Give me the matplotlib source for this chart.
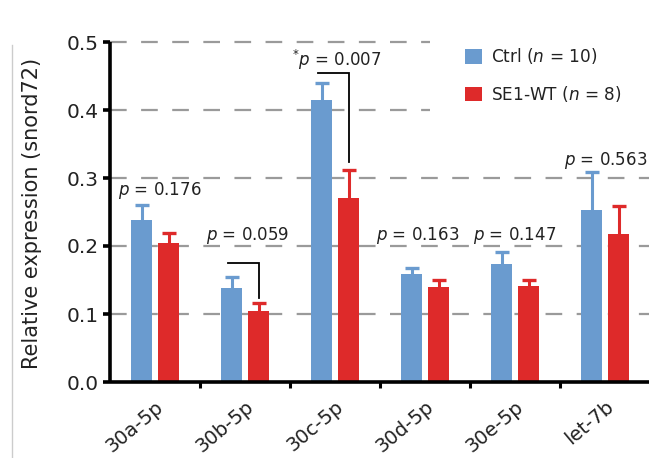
import matplotlib
matplotlib.use("Agg")
import matplotlib.pyplot as plt
from matplotlib.patches import Patch
from matplotlib.lines import Line2D
import numpy as np

plt.rcParams['font.family'] = ['DejaVu Sans']
plt.rcParams['mathtext.fontset'] = 'dejavusans'

categories = ["30a-5p", "30b-5p", "30c-5p", "30d-5p", "30e-5p", "let-7b"]
ctrl_mean = [0.238, 0.138, 0.415, 0.159, 0.173, 0.253]
ctrl_err = [0.022, 0.017, 0.025, 0.009, 0.018, 0.056]
se1_mean = [0.204, 0.105, 0.270, 0.139, 0.141, 0.218]
se1_err = [0.015, 0.011, 0.042, 0.011, 0.009, 0.041]
p_labels = ["0.176", "0.059", "0.007", "0.163", "0.147", "0.563"]
p_star = [False, False, True, False, False, False]
ctrl_label = "Ctrl ($n$ = 10)"
se1_label = "SE1-WT ($n$ = 8)"

blue = "#6A9BCF"
red = "#DE2A2A"
text_col = "#222222"

fig = plt.figure(figsize=(6.49, 4.58), dpi=100)
ax = fig.add_axes([110 / 649, 1 - 382 / 458, 540 / 649, 340 / 458])

x = np.arange(len(categories))
w = 0.23
off = 0.15

# dashed reference lines; the upper two stop short of the legend
grid_levels = [0.1, 0.2, 0.3, 0.4, 0.5]
grid_extent = [1.0, 1.0, 1.0, 0.593, 0.593]
for yv, xm in zip(grid_levels, grid_extent):
    ax.axhline(yv, xmin=0.0, xmax=xm, color="#9a9a9a", lw=1.6,
               dashes=(7.5, 6.5), dash_capstyle="butt", zorder=0,
               clip_on=False)

ax.bar(x - off, ctrl_mean, w, color=blue, zorder=2)
ax.bar(x + off, se1_mean, w, color=red, zorder=2)
for means, errs, col, dx in [(ctrl_mean, ctrl_err, blue, -off),
                             (se1_mean, se1_err, red, off)]:
    _, caps, _ = ax.errorbar(x + dx, means, yerr=[np.zeros(len(x)), errs],
                             fmt="none", ecolor=col, elinewidth=2.2,
                             capsize=5, capthick=2.4, zorder=2)
    caps[0].set_visible(False)  # upper whisker only

# significance brackets
brackets = {1: (0.175, 0.124), 2: (0.454, 0.323)}
for i, (top, low) in brackets.items():
    ax.plot([i - 0.19, i + off, i + off], [top, top, low], color="black",
            lw=1.3, zorder=3, solid_joinstyle="miter")

# p-value annotations
p_pos = [(0.05, 0.282), (1.03, 0.216), (2.02, 0.473),
         (2.92, 0.216), (4.0, 0.216), (5.01, 0.326)]
for (px, py), lab, star in zip(p_pos, p_labels, p_star):
    txt = ("$^{*}$" if star else "") + "$p$ = " + lab
    ax.text(px, py, txt, ha="center", va="center", fontsize=12,
            color=text_col, zorder=4, clip_on=False)

ax.set_xlim(-0.5, 5.5)
ax.set_ylim(0, 0.5)
ax.set_yticks([0.0, 0.1, 0.2, 0.3, 0.4, 0.5])
ax.set_yticklabels(["0.0", "0.1", "0.2", "0.3", "0.4", "0.5"])
ax.set_xticks(x)
ax.set_xticklabels(categories, rotation=40, ha="right", va="top",
                   rotation_mode="anchor")
ax.set_xticks(np.arange(0.5, 5.5, 1.0), minor=True)
ax.tick_params(axis="x", which="major", length=0, pad=11, labelsize=14,
               labelcolor=text_col)
ax.tick_params(axis="x", which="minor", length=4, width=2.2, direction="out")
ax.tick_params(axis="y", length=5, width=2.6, pad=3, labelsize=14.5,
               labelcolor=text_col)

for s in ["top", "right"]:
    ax.spines[s].set_visible(False)
for s in ["left", "bottom"]:
    ax.spines[s].set_linewidth(2.6)
    ax.spines[s].set_capstyle("butt")

ax.set_ylabel("Relative expression (snord72)", fontsize=15, color=text_col)
ax.yaxis.set_label_coords(-0.126, 0.497)

handles = [Patch(facecolor=blue, edgecolor="none"),
           Patch(facecolor=red, edgecolor="none")]
leg = ax.legend(handles, [ctrl_label, se1_label], loc="upper left",
                bbox_to_anchor=(0.63, 1.033), fontsize=12.2, frameon=False,
                handlelength=0.95, handleheight=0.95, handletextpad=0.55,
                labelspacing=1.05, borderpad=0.4)
for t in leg.get_texts():
    t.set_color(text_col)

fig.add_artist(Line2D([12 / 649, 12 / 649], [0, 1 - 45 / 458],
                      color="#cccccc", lw=1.0))

fig.savefig("out.png", dpi=100)
